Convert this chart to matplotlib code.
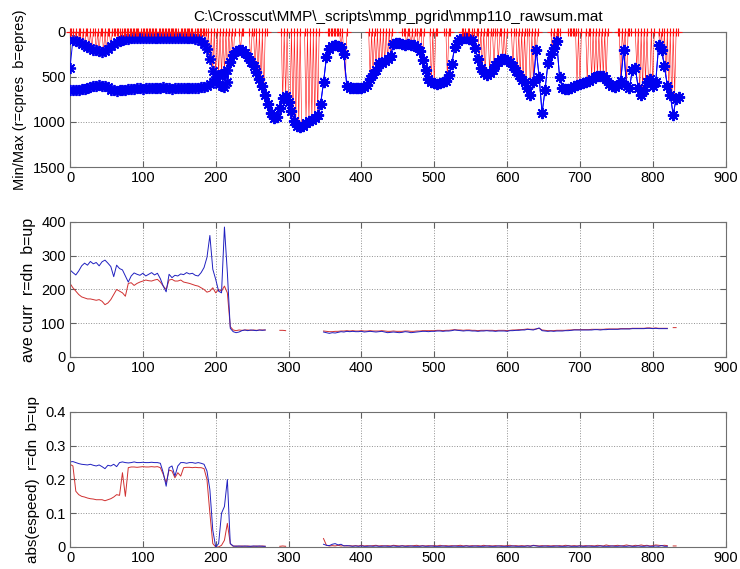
import numpy as np
import matplotlib.pyplot as plt

plt.rcParams['font.family'] = ['Liberation Sans', 'DejaVu Sans']

nan = np.nan

title_txt = r'C:\Crosscut\MMP\_scripts\mmp_pgrid\mmp110_rawsum.mat'

# ---- top panel: pressure min/max (every 4th profile) ----
epres_min = [
    400, 85, 95, 110, 130, 150, 165, 180, 195, 205,
    215, 220, 215, 190, 160, 130, 110, 95, 85, 80,
    75, 72, 70, 68, 66, 68, 66, 65, 68, 66,
    65, 64, 66, 68, 66, 65, 64, 66, 68, 70,
    70, 72, 72, 75, 80, 95, 130, 190, 300, 430,
    500, 480, 470, 460, 420,
    330, 260, 215, 195, 200, 230, 280, 330, 380, 440,
    520, 600, 700, 800, 900, 960, 940, 850, 730, 710,
    780, 880, 990, 1050, 1060, 1040, 1010, 990, 980, 960,
    920, 800, 560, 280, 190, 160, 150, 155, 170, 250,
    600, 620, 625, 625, 625,
    620, 615, 590, 520, 470, 420, 350, 340, 320, 300,
    270, 130, 120, 125, 130, 140, 135, 140, 150, 170,
    210, 310, 420, 520, 560, 570, 575, 570, 560, 540,
    480, 360, 170, 100, 80, 70, 70, 75, 90, 180,
    300, 400, 460, 480, 460, 420, 370, 330, 300, 300,
    310, 330, 380, 430, 480, 530, 560, 620, 700, 560,
    200, 500, 900, 650, 350, 250, 180, 100, 500, 620,
    630, 635, 625, 600, 590, 580, 570, 560, 540, 520,
    500, 490, 485, 490, 520, 580, 600, 610, 590, 540,
    200, 600, 620, 420, 400, 620, 700, 640, 560, 520,
    600, 560, 150, 200, 380, 600, 700, 920, 740, 720,
]
epres_max_head = [
    640, 640, 645, 640, 635, 630, 625, 615, 600, 595,
    590, 595, 600, 615, 640, 650, 655, 650, 645, 640,
    635, 630, 628, 625, 625, 628, 625, 622, 625, 625,
    622, 620, 615, 618, 625, 628, 625, 622, 620, 618,
    620, 622, 620, 620, 618, 615, 610, 600, 580, 560,
    560, 580, 600, 610, 560,
]
epres_max = epres_max_head + epres_min[len(epres_max_head):]

# cpres: stretches where it sits at the surface, and its drop-outs
cpres_ranges = [(0, 226), (232, 238), (246, 270), (290, 318), (322, 342),
                (354, 380), (410, 442), (456, 486), (494, 504), (514, 522),
                (538, 600), (606, 642), (660, 672), (684, 702), (708, 738),
                (752, 770), (776, 802), (808, 834)]
spike_idx = [6, 10, 16, 20, 26, 30, 36, 40, 46, 50, 56,
             70, 96, 120, 150, 170,
             188, 192, 196, 200, 204, 208, 212, 216, 220, 224,
             234, 248, 254, 258, 262, 266,
             292, 296, 300, 302, 306, 310, 314, 318,
             324, 328, 332, 336, 340,
             372, 376, 378,
             412, 416, 420, 424, 428, 432, 436, 440,
             462, 468, 472, 478, 484, 496, 500, 518,
             544, 550, 556, 562, 566, 570, 576, 582, 588, 594, 598,
             608, 614, 618, 622, 626, 632, 636, 640,
             662, 666, 696, 700,
             710, 716, 720, 724, 728, 732, 736,
             756, 760, 764,
             778, 782, 786, 790, 794, 796, 800,
             810, 814, 818, 822, 826, 830]
spike_val = [100, 115, 140, 150, 175, 185, 205, 215, 220, 205, 160,
             40, 30, 35, 30, 40,
             200, 330, 450, 480, 470, 480, 460, 430, 340, 300,
             200, 330, 420, 500, 580, 680,
             760, 720, 800, 850, 960, 1000, 1040, 1040,
             1000, 990, 980, 960, 920,
             170, 260, 500,
             520, 470, 420, 400, 360, 330, 300, 280,
             125, 140, 150, 200, 310, 560, 570, 500,
             70, 80, 180, 300, 420, 470, 460, 380, 330, 300, 300,
             380, 440, 480, 520, 560, 700, 550, 250,
             190, 120, 590, 580,
             550, 520, 500, 490, 485, 490, 520,
             540, 200, 600,
             400, 700, 640, 560, 540, 520, 600,
             180, 300, 500, 650, 800, 700]

# ---- middle panel: average current ----
curr_up = [
    258, 250, 243, 255, 270, 278, 272, 283, 276, 280,
    270, 282, 287, 278, 268, 238, 272, 262, 258, 240,
    222, 240, 249, 245, 242, 248, 240, 245, 250, 243,
    248, 232, 210, 193, 245, 235, 242, 240, 246, 244,
    250, 246, 248, 242, 240, 250, 265, 295, 360, 260,
    230, 195, 190, 385, 250, 85, 75, 72, 74, 78,
    80, 78, 80, 79, 78, 80, 79, 80,
    nan, nan, nan, nan, nan, nan, nan, nan, nan, nan,
    nan, nan, nan, nan, nan, nan, nan, nan, nan,
    74, 72, 70, 72, 71, 73, 75, 74, 76, 75,
    76, 75, 75, 76, 74, 75, 76, 75, 74, 75,
    76, 74, 72, 73, 74, 73, 72, 73, 75, 74,
    72, 73, 74, 75, 76, 76, 75, 76, 76, 77,
    77, 76, 77, 77, 78, 80, 79, 78, 77, 78,
    78, 77, 77, 76, 77, 77, 78, 77, 77, 76,
    77, 77, 77, 76, 78, 78, 79, 79, 80, 80,
    82, 81, 80, 83, 86, 78, 77, 76, 77, 76,
    77, 77, 77, 78, 78, 79, 80, 80, 80, 80,
    80, 80, 80, 81, 81, 80, 81, 81, 82, 82,
    82, 82, 83, 83, 83, 83, 84, 84, 84, 84,
    84, 85, 85, 84, 85, 84, 84, 84, 84,
    nan, nan, nan,
]
curr_dn = [
    218, 205, 195, 185, 178, 175, 172, 172, 170, 168,
    170, 165, 155, 160, 170, 185, 200, 195, 190, 180,
    218, 220, 212, 218, 222, 225, 228, 226, 225, 228,
    230, 222, 210, 200, 228, 230, 225, 225, 228, 222,
    220, 218, 215, 212, 210, 205, 200, 192, 195, 205,
    190, 200, 195, 210, 190, 90, 80, 78, 80, 79,
    80, 80, 79, 80, 79, 80, 80, 80,
    nan, nan, nan, nan,
    79, 79, 78,
    nan, nan, nan, nan, nan, nan, nan, nan, nan, nan, nan, nan,
    77, 76, 75, 75, 76, 76, 77, 77, 78, 77,
    78, 77, 77, 78, 77, 77, 78, 77, 77, 77,
    78, 77, 76, 76, 77, 76, 76, 76, 77, 77,
    76, 76, 77, 77, 78, 78, 78, 78, 78, 79,
    79, 78, 79, 79, 80, 81, 80, 80, 79, 80,
    80, 79, 79, 78, 79, 79, 79, 79, 79, 78,
    79, 79, 79, 78, 79, 80, 80, 81, 81, 82,
    83, 82, 82, 83, 85, 80, 79, 78, 78, 78,
    79, 79, 79, 79, 80, 80, 81, 81, 81, 81,
    81, 81, 82, 82, 82, 82, 82, 83, 83, 83,
    83, 83, 84, 84, 84, 84, 85, 85, 85, 85,
    85, 86, 86, 85, 86, 85, 85, 85, 85,
    nan, 87, 87,
]

# ---- bottom panel: abs(espeed) ----
speed_up = [
    0.252, 0.253, 0.250, 0.247, 0.245, 0.244, 0.243, 0.245, 0.242, 0.240,
    0.243, 0.238, 0.232, 0.242, 0.240, 0.245, 0.238, 0.250, 0.252, 0.250,
    0.249, 0.250, 0.252, 0.250, 0.250, 0.251, 0.250, 0.250, 0.251, 0.250,
    0.250, 0.248, 0.220, 0.180, 0.235, 0.240, 0.210, 0.240, 0.250, 0.250,
    0.248, 0.250, 0.250, 0.248, 0.250, 0.248, 0.245, 0.225, 0.170, 0.050,
    0.000, 0.010, 0.100, 0.120, 0.200, 0.010, 0.003, 0.002, 0.003, 0.002,
    0.003, 0.002, 0.002, 0.003, 0.002, 0.003, 0.002, 0.002,
    nan, nan, nan, nan,
    nan, nan, nan,
    nan, nan, nan, nan, nan, nan, nan, nan, nan, nan, nan, nan,
    0.008, 0.005, 0.004, 0.008, 0.010, 0.006, 0.008, 0.003, 0.004, 0.003,
    0.002, 0.003, 0.002, 0.003, 0.002, 0.002, 0.003, 0.002, 0.003, 0.002,
    0.002, 0.003, 0.002, 0.002, 0.003, 0.002, 0.002, 0.003, 0.002, 0.002,
    0.003, 0.002, 0.002, 0.002, 0.003, 0.002, 0.002, 0.003, 0.002, 0.002,
    0.002, 0.003, 0.002, 0.002, 0.002, 0.003, 0.002, 0.002, 0.002, 0.003,
    0.002, 0.002, 0.003, 0.002, 0.002, 0.002, 0.003, 0.002, 0.002, 0.002,
    0.003, 0.002, 0.002, 0.002, 0.002, 0.003, 0.002, 0.002, 0.002, 0.002,
    0.003, 0.002, 0.004, 0.003, 0.002, 0.002, 0.003, 0.002, 0.002, 0.002,
    0.003, 0.002, 0.002, 0.002, 0.003, 0.002, 0.002, 0.002, 0.003, 0.002,
    0.002, 0.003, 0.002, 0.002, 0.002, 0.003, 0.002, 0.002, 0.002, 0.003,
    0.002, 0.002, 0.003, 0.002, 0.002, 0.003, 0.002, 0.002, 0.003, 0.002,
    0.002, 0.003, 0.002, 0.002, 0.003, 0.002, 0.004, 0.002, 0.002,
    nan, nan, nan,
]
speed_dn = [
    0.245, 0.240, 0.165, 0.155, 0.150, 0.148, 0.145, 0.143, 0.142, 0.140,
    0.140, 0.140, 0.137, 0.140, 0.143, 0.148, 0.155, 0.153, 0.220, 0.150,
    0.235, 0.237, 0.237, 0.236, 0.237, 0.238, 0.237, 0.237, 0.238, 0.237,
    0.238, 0.235, 0.215, 0.190, 0.228, 0.225, 0.205, 0.220, 0.210, 0.235,
    0.236, 0.236, 0.235, 0.236, 0.235, 0.235, 0.232, 0.200, 0.100, 0.010,
    0.000, 0.000, 0.005, 0.020, 0.070, 0.010, 0.002, 0.003, 0.002, 0.003,
    0.002, 0.003, 0.002, 0.002, 0.003, 0.002, 0.003, 0.002,
    nan, nan, nan, nan,
    0.002, 0.003, 0.002,
    nan, nan, nan, nan, nan, nan, nan, nan, nan, nan, nan, nan,
    0.025, 0.005, 0.003, 0.004, 0.003, 0.005, 0.003, 0.004, 0.003, 0.004,
    0.003, 0.004, 0.003, 0.005, 0.003, 0.004, 0.003, 0.004, 0.005, 0.003,
    0.004, 0.003, 0.004, 0.003, 0.005, 0.004, 0.003, 0.004, 0.003, 0.004,
    0.003, 0.004, 0.005, 0.003, 0.004, 0.003, 0.004, 0.003, 0.004, 0.003,
    0.005, 0.003, 0.004, 0.003, 0.004, 0.003, 0.004, 0.005, 0.003, 0.004,
    0.003, 0.004, 0.003, 0.004, 0.003, 0.005, 0.003, 0.004, 0.003, 0.004,
    0.003, 0.004, 0.003, 0.004, 0.005, 0.003, 0.004, 0.003, 0.004, 0.003,
    0.004, 0.003, 0.005, 0.004, 0.003, 0.004, 0.003, 0.004, 0.003, 0.004,
    0.003, 0.004, 0.003, 0.005, 0.004, 0.003, 0.004, 0.003, 0.004, 0.003,
    0.004, 0.003, 0.004, 0.003, 0.005, 0.004, 0.003, 0.006, 0.004, 0.003,
    0.004, 0.005, 0.003, 0.004, 0.006, 0.004, 0.003, 0.005, 0.004, 0.006,
    0.004, 0.005, 0.003, 0.004, 0.006, 0.005, 0.004, 0.005, 0.004,
    nan, 0.003, 0.003,
]

# profile indices
pres_x = np.arange(0, 4 * len(epres_min), 4)
cpres_x = np.arange(0, 836, 2)
cpres = np.full(len(cpres_x), np.nan)
for a, b in cpres_ranges:
    cpres[(cpres_x >= a) & (cpres_x <= b)] = 0
for i, v in zip(spike_idx, spike_val):
    cpres[cpres_x == i] = v
curr_x = np.arange(0, 4 * len(curr_up), 4)

fig = plt.figure(figsize=(7.4, 5.69), dpi=100)
ax1 = fig.add_axes([0.0946, 0.7065, 0.886, 0.2373])
ax2 = fig.add_axes([0.0946, 0.3726, 0.886, 0.2373])
ax3 = fig.add_axes([0.0946, 0.0387, 0.886, 0.2373])

# top: matlab style asterisk markers
star = (8, 2, 0)
ax1.plot(cpres_x, cpres, '-', color='#ff2020', lw=0.45, zorder=2)
ax1.plot(pres_x, epres_min, '-', color='b', lw=0.7, marker=star, ms=8, mew=1.3, mec='#0000f0', zorder=3)
ax1.plot(pres_x, epres_max, '-', color='b', lw=0.7, marker=star, ms=8, mew=1.3, mec='#0000f0', zorder=3)
# cpres '+' markers sit along the surface, drawn on top
top_pts = cpres == 0
ax1.plot(cpres_x[top_pts], cpres[top_pts], ls='none', color='#ff1010', marker='+',
         ms=6, mew=0.8, clip_on=False, zorder=5)
ax1.set_ylim(1500, 0)
ax1.set_yticks([0, 500, 1000, 1500])
ax1.set_ylabel('Min/Max (r=cpres  b=epres)', fontsize=10.5)
ax1.set_title(title_txt, fontsize=11, pad=8)

# middle
ax2.plot(curr_x, curr_dn, color='#d03030', lw=0.7)
ax2.plot(curr_x, curr_up, color='#2020c0', lw=0.7)
ax2.set_ylim(0, 400)
ax2.set_yticks([0, 100, 200, 300, 400])
ax2.set_ylabel('ave curr  r=dn  b=up', fontsize=11.5)

# bottom
ax3.plot(curr_x, speed_dn, color='#d03030', lw=0.7)
ax3.plot(curr_x, speed_up, color='#2020c0', lw=0.7)
ax3.set_ylim(0, 0.4)
ax3.set_yticks([0, 0.1, 0.2, 0.3, 0.4])
ax3.set_yticklabels(['0', '0.1', '0.2', '0.3', '0.4'])
ax3.set_ylabel('abs(espeed)  r=dn  b=up', fontsize=11)

for ax in (ax1, ax2, ax3):
    ax.set_xlim(0, 900)
    ax.set_xticks(range(0, 901, 100))
    ax.grid(True, linestyle=':', color='#909090', lw=0.7)
    ax.tick_params(direction='in', top=True, right=True, length=4,
                   color='#606060', labelsize=10.5, pad=3)
    for s in ax.spines.values():
        s.set_color('#707070')
        s.set_linewidth(0.8)

fig.savefig('out.png', dpi=100)
